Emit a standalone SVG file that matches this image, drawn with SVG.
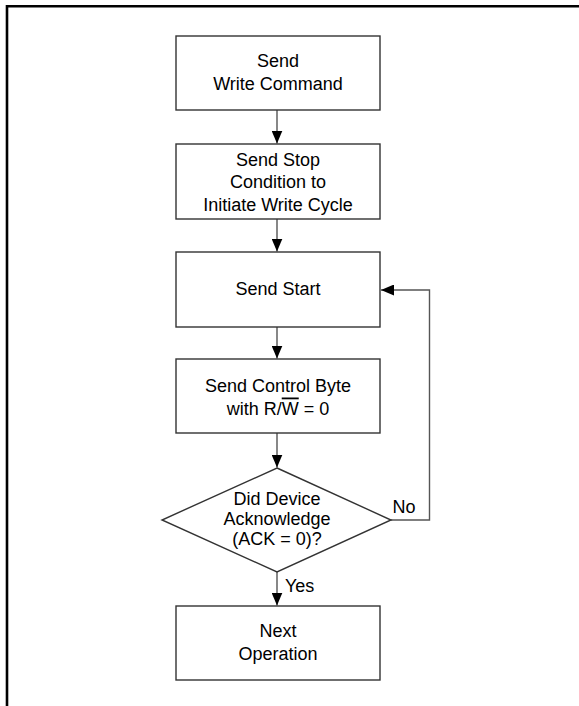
<svg xmlns="http://www.w3.org/2000/svg" width="579" height="706" viewBox="0 0 579 706">
<style>
.box{fill:#fff;stroke:#333;stroke-width:1.4}
.t{font-family:"Liberation Sans",Arial,sans-serif;font-size:18px;fill:#000;text-anchor:middle}
.lbl{font-family:"Liberation Sans",Arial,sans-serif;font-size:18px;fill:#000}
.c{fill:none;stroke:#555;stroke-width:1.4}
</style>
<defs>
<marker id="ah" markerWidth="13" markerHeight="11" refX="13" refY="5.5" orient="auto" markerUnits="userSpaceOnUse">
<path d="M0,0 L13,5.5 L0,11 Z" fill="#000"/>
</marker>
</defs>
<rect width="579" height="706" fill="#fff"/>
<path d="M7,706 V6.3 H579" fill="none" stroke="#000" stroke-width="2.6"/>
<g id="connectors">
<path class="c" d="M277,110 V143.5" marker-end="url(#ah)"/>
<path class="c" d="M277,219 V251.5" marker-end="url(#ah)"/>
<path class="c" d="M277,327 V358.5" marker-end="url(#ah)"/>
<path class="c" d="M277,433 V467.5" marker-end="url(#ah)"/>
<path class="c" d="M277,572 V605.5" marker-end="url(#ah)"/>
<path class="c" d="M391,520 H429.5 V290 H381" marker-end="url(#ah)"/>
<text class="lbl" x="392.5" y="513">No</text>
<text class="lbl" x="285" y="592">Yes</text>
</g>
<g id="n1">
<rect class="box" x="176" y="36" width="204" height="74"/>
<text class="t" x="278" y="67">Send</text>
<text class="t" x="278" y="89.5">Write Command</text>
</g>
<g id="n2">
<rect class="box" x="176" y="144" width="204" height="75"/>
<text class="t" x="278" y="165.5">Send Stop</text>
<text class="t" x="278" y="188">Condition to</text>
<text class="t" x="278" y="210.5">Initiate Write Cycle</text>
</g>
<g id="n3">
<rect class="box" x="176" y="252" width="204" height="75"/>
<text class="t" x="278" y="294.5">Send Start</text>
</g>
<g id="n4">
<rect class="box" x="176" y="359" width="204" height="74"/>
<text class="t" x="278" y="392">Send Control Byte</text>
<text class="t" x="278" y="414.5">with R/<tspan style="text-decoration:overline">W</tspan> = 0</text>
</g>
<g id="n5">
<path class="box" d="M277,468 L391,520 L277,572 L162,520 Z"/>
<text class="t" x="277" y="505">Did Device</text>
<text class="t" x="277" y="525">Acknowledge</text>
<text class="t" x="277" y="545">(ACK = 0)?</text>
</g>
<g id="n6">
<rect class="box" x="176" y="606" width="204" height="74"/>
<text class="t" x="278" y="637">Next</text>
<text class="t" x="278" y="659.5">Operation</text>
</g>
</svg>
